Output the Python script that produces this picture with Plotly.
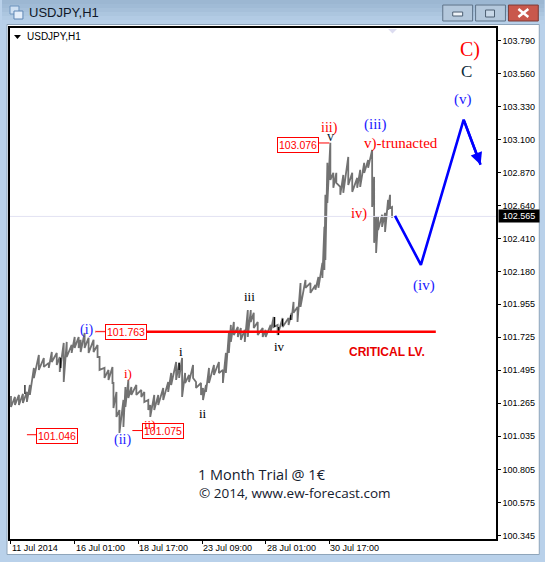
import plotly.graph_objects as go

# ---------- data ----------
bars = [0,4,8,12,16,19,23,28,33,38,41,46,49,53,56,61,64,68,70,74,78,83,87,89,94,98,102,103,106,109,113,115,118,121,126,131,134,138,140,144,148,153,158,161,166,169,172,175,179,183,186,191,193,196,199,204,209,213,216,219,221,224,228,231,235,238,241,244,248,253,256,261,264,268,273,279,282,284,288,291,296,301,306,309,313,315,316,318,321,324,327,331,334,339,343,348,351,355,359,363,365,367,369,373,376,379,381,383]
highs = [101.316,101.309,101.323,101.330,101.344,101.392,101.511,101.601,101.580,101.546,101.622,101.615,101.587,101.685,101.692,101.671,101.726,101.726,101.706,101.754,101.720,101.706,101.671,101.587,101.511,101.497,101.518,101.406,101.344,101.218,101.288,101.378,101.427,101.378,101.392,101.358,101.344,101.288,101.253,101.323,101.323,101.372,101.413,101.476,101.552,101.546,101.580,101.476,101.462,101.532,101.413,101.406,101.372,101.392,101.511,101.532,101.552,101.497,101.615,101.754,101.810,101.831,101.796,101.789,101.775,101.914,101.914,101.894,101.831,101.789,101.775,101.810,101.866,101.810,101.859,101.859,101.894,101.970,101.935,102.102,102.123,102.102,102.088,102.144,102.242,102.492,102.715,102.938,103.077,102.868,102.868,102.770,102.854,102.979,102.868,102.833,102.889,102.938,102.958,103.028,102.840,102.562,102.562,102.576,102.590,102.680,102.715,102.631]
lows = [101.239,101.253,101.253,101.267,101.274,101.323,101.441,101.497,101.518,101.511,101.552,101.532,101.483,101.413,101.587,101.615,101.650,101.650,101.622,101.650,101.615,101.622,101.587,101.497,101.441,101.427,101.406,101.232,101.170,101.058,101.100,101.239,101.302,101.323,101.323,101.309,101.274,101.218,101.170,101.218,101.253,101.288,101.344,101.392,101.427,101.441,101.309,101.406,101.413,101.441,101.372,101.323,101.288,101.344,101.406,101.462,101.476,101.406,101.476,101.615,101.692,101.740,101.726,101.706,101.692,101.726,101.831,101.789,101.740,101.726,101.726,101.761,101.796,101.740,101.796,101.810,101.845,101.894,101.831,101.935,102.068,102.033,102.054,102.068,102.137,102.193,102.262,102.659,102.819,102.764,102.798,102.715,102.729,102.784,102.736,102.764,102.770,102.868,102.903,102.631,102.381,102.311,102.471,102.492,102.457,102.610,102.624,102.555]
black_bars = [14, 50, 169, 265, 269, 273, 281]
black_highs = [101.392, 101.580, 101.546, 101.866, 101.796, 101.852, 101.880]
black_lows = [101.330, 101.511, 101.497, 101.796, 101.740, 101.803, 101.845]

forecast_bars = [386, 412, 455, 472]
forecast_prices = [102.569, 102.228, 103.238, 102.925]

critical_level = 101.763
critical_span = [85, 427]
level_values = [101.046, 101.075, 103.076]
level_spans = [[16, 26], [122, 133], [309, 320]]
level_labels = ["101.046", "101.075", "103.076"]

y_ticks = [103.790,103.560,103.330,103.100,102.870,102.640,102.410,102.180,101.955,101.725,101.495,101.265,101.035,100.805,100.575,100.345]
x_tick_bars = [0, 64, 128, 192, 256, 320]
x_tick_labels = ["11 Jul 2014","16 Jul 01:00","18 Jul 17:00","23 Jul 09:00","28 Jul 01:00","30 Jul 17:00"]
last_price = 102.565
title = "USDJPY,H1"

# ---------- layout helpers ----------
W, H = 545, 562
L, R, T, B = 8, 496.5, 28, 539.5
px = lambda x: (x - L) / (R - L)
py = lambda y: (B - y) / (B - T)
RED, BLUE, GREY = "#ff0000", "#1a1aff", "#727272"

fig = go.Figure()

# price band: high -> low zigzag
xs, ys = [], []
for b, h, l in zip(bars, highs, lows):
    xs += [b, b]
    ys += [h, l]
fig.add_trace(go.Scatter(x=xs, y=ys, mode="lines", line=dict(color=GREY, width=1.8), hoverinfo="skip"))

bx, by = [], []
for b, h, l in zip(black_bars, black_highs, black_lows):
    bx += [b, b, None]
    by += [h, l, None]
fig.add_trace(go.Scatter(x=bx, y=by, mode="lines", line=dict(color="#000000", width=1.2), hoverinfo="skip"))

# last price line
fig.add_trace(go.Scatter(x=[-1, 487.5], y=[last_price, last_price], mode="lines",
                         line=dict(color="#e2e2f2", width=1), hoverinfo="skip"))
# critical level
fig.add_trace(go.Scatter(x=critical_span, y=[critical_level]*2, mode="lines",
                         line=dict(color=RED, width=2.4), hoverinfo="skip"))
# short levels
for v, s in zip(level_values, level_spans):
    fig.add_trace(go.Scatter(x=s, y=[v, v], mode="lines", line=dict(color=RED, width=1), hoverinfo="skip"))
fig.add_trace(go.Scatter(x=[85, 95], y=[critical_level]*2, mode="lines", line=dict(color="#ffffff", width=3), hoverinfo="skip"))
fig.add_trace(go.Scatter(x=[85, 95], y=[critical_level]*2, mode="lines", line=dict(color=RED, width=1), hoverinfo="skip"))
# forecast
fig.add_trace(go.Scatter(x=forecast_bars, y=forecast_prices, mode="lines",
                         line=dict(color="#0000ff", width=2.6), hoverinfo="skip"))

shapes = []
def rect(x0, y0, x1, y1, fill, line=None, lw=1):
    shapes.append(dict(type="rect", xref="paper", yref="paper", layer="below",
                       x0=px(x0), x1=px(x1), y0=py(y0), y1=py(y1), fillcolor=fill,
                       line=dict(color=line or fill, width=lw if line else 0)))
def seg(x0, y0, x1, y1, color, lw=1):
    shapes.append(dict(type="line", xref="paper", yref="paper", layer="above",
                       x0=px(x0), x1=px(x1), y0=py(y0), y1=py(y1), line=dict(color=color, width=lw)))

# window chrome
for i, c in enumerate(["#9cb7d2", "#a0bbd6", "#a6c0da", "#acc6df", "#b2cbe4", "#b8d0e9"]):
    rect(0, i*4, W, i*4+4, c)
rect(5, 24.5, 540, 555, "#ffffff", "#8ea4ba", 1)
# buttons
rect(443, 5, 473, 21, "#b4c8dc", "#5d7288", 1)
rect(476, 5, 506, 21, "#b4c8dc", "#5d7288", 1)
rect(509, 5, 539, 21, "#c9584c", "#7a3a36", 1)
rect(453, 12, 463, 16, "#eef3f8", "#4d5f72", 1)
rect(486, 10, 495, 17, "#c8d8e8", "#4d5f72", 1)
seg(519, 9, 529, 17, "#ffffff", 2.5)
seg(529, 9, 519, 17, "#ffffff", 2.5)
# icon
rect(8, 6, 17, 14, "#cfe0f2", "#6d93bd", 1)
rect(12, 11, 21, 19, "#e4eefa", "#5e86b4", 1)
# shift marker
shapes.append(dict(type="path", xref="paper", yref="paper", layer="above",
                   path=f"M {px(388)} {py(29)} L {px(397)} {py(29)} L {px(392.5)} {py(33.5)} Z",
                   fillcolor="#dcdcf0", line=dict(width=0)))
# legend triangle
shapes.append(dict(type="path", xref="paper", yref="paper", layer="above",
                   path=f"M {px(12)} {py(35)} L {px(19)} {py(35)} L {px(15.5)} {py(39)} Z",
                   fillcolor="#000000", line=dict(width=0)))

ann = []
SERIF = "Liberation Serif"
def text(x, y, s, color, size, font=SERIF, xa="center", bold=False):
    ann.append(dict(xref="paper", yref="paper", x=px(x), y=py(y), text=f"<b>{s}</b>" if bold else s,
                    showarrow=False, xanchor=xa, yanchor="middle",
                    font=dict(color=color, size=size, family=font)))

# boxed level labels (drawn first so wave labels sit on top)
def boxed(x, y, s):
    ann.append(dict(xref="paper", yref="paper", x=px(x), y=py(y), text=s, showarrow=False,
                    xanchor="center", yanchor="middle", bgcolor="#ffffff", bordercolor=RED,
                    borderwidth=1, borderpad=1, font=dict(color=RED, size=10.5, family="Liberation Sans")))
boxed(124.5, 332.5, f"{critical_level:.3f}")
boxed(55.5, 436.5, level_labels[0])
boxed(162, 431.5, level_labels[1])
boxed(297.5, 145, level_labels[2])

# title and legend
text(25, 12.5, title, "#101828", 13, "Liberation Sans", "left")
text(23, 36.5, title, "#000000", 10, "Liberation Sans", "left")

# wave labels
text(470, 50, "C)", RED, 20)
text(467, 72, "C", "#0c2c3c", 17)
text(463, 99.5, "(v)", BLUE, 15)
text(424, 286, "(iv)", BLUE, 15)
text(375, 124.5, "(iii)", BLUE, 15)
text(362, 144, "v)-trunacted", RED, 15, xa="left")
text(329, 128.5, "iii)", RED, 14)
text(330, 137, "v", "#0c2c3c", 14)
text(359, 214, "iv)", RED, 14.5)
text(249, 297, "iii", "#000000", 13)
text(279, 346.5, "iv", "#000000", 13)
text(180, 352, "i", "#000000", 13)
text(202, 414, "ii", "#000000", 13)
text(127, 374, "i)", RED, 13)
text(149, 425, "ii)", RED, 13)
text(85, 330, "(i)", BLUE, 14)
text(121, 440, "(ii)", BLUE, 14)
text(387, 352, "CRITICAL LV.", "#e80000", 12, "Liberation Sans", bold=True)
text(195, 475, "1 Month Trial @ 1€", "#14202e", 14.5, "Open Sans", "left")
text(195.5, 493, "© 2014, www.ew-forecast.com", "#14202e", 13.5, "Open Sans", "left")

# x tick labels (left aligned on their ticks)
for b, s in zip(x_tick_bars, x_tick_labels):
    ann.append(dict(xref="x", yref="paper", x=b, y=py(549), text=s, showarrow=False, xanchor="left",
                    xshift=-1, yanchor="middle", font=dict(color="#000000", size=9, family="Liberation Sans")))

# arrow head for last forecast leg
ann.append(dict(xref="x", yref="y", axref="x", ayref="y", x=forecast_bars[-1], y=forecast_prices[-1],
                ax=forecast_bars[-2], ay=forecast_prices[-2], text="", showarrow=True,
                arrowhead=2, arrowsize=1.0, arrowwidth=2.4, arrowcolor="#0000ff"))

# current price tag
ann.append(dict(xref="paper", yref="y", x=px(498.5), y=last_price, text=f"{last_price:.3f}", showarrow=False,
                xanchor="left", yanchor="middle", bgcolor="#000000", borderpad=1, width=38, align="center",
                font=dict(color="#ffffff", size=9, family="Liberation Sans")))

fig.update_layout(
    width=W, height=H, autosize=False, showlegend=False,
    margin=dict(l=L, r=W-R, t=T, b=H-B, pad=0),
    paper_bgcolor="#b9d1ea", plot_bgcolor="#ffffff",
    shapes=shapes, annotations=ann,
    xaxis=dict(range=[-1, 487.5], tickvals=x_tick_bars, ticktext=[""]*len(x_tick_bars), ticks="outside",
               ticklen=3, tickcolor="#000000", showgrid=False, zeroline=False, showline=True,
               linecolor="#000000", linewidth=1.5, mirror=True),
    yaxis=dict(range=[100.3205, 103.876], side="right", tickvals=y_ticks, ticktext=[f"{v:.3f}" for v in y_ticks],
               ticks="outside", ticklen=3, tickcolor="#000000", showgrid=False, zeroline=False, showline=True,
               linecolor="#000000", linewidth=1.5, mirror=True,
               tickfont=dict(color="#000000", size=9, family="Liberation Sans")),
)
fig.write_html("out.html", config=dict(displayModeBar=False),
               post_script="document.body.style.margin='0';document.documentElement.style.overflow='hidden';")
